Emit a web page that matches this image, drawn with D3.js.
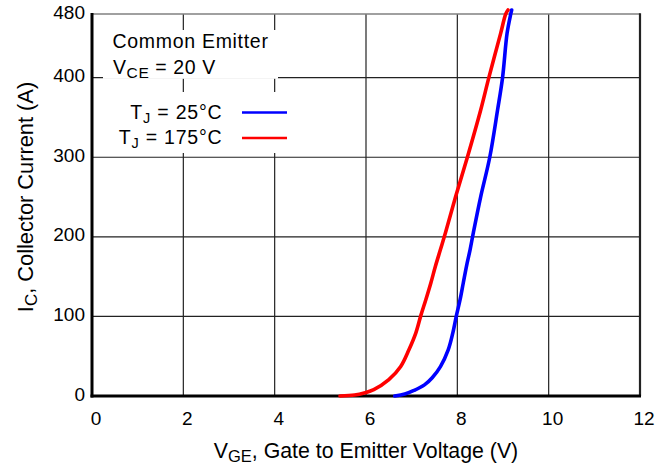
<!DOCTYPE html>
<html><head><meta charset="utf-8">
<script src="https://cdn.jsdelivr.net/npm/d3@7"></script>
<style>
html,body{margin:0;padding:0;background:#fff;}
text{font-family:"Liberation Sans",Arial,Helvetica,sans-serif;fill:#000;}
</style></head>
<body><svg id="c" width="668" height="466"></svg>
<script>
// ---- data ----
const xTicks = [0, 2, 4, 6, 8, 10, 12];
const yTicks = [0, 100, 200, 300, 400, 480];
const seriesNames = ["25°C", "175°C"];
const seriesColors = ["#0000ff", "#ff0000"];
const vge25 = [6.63, 6.85, 7.05, 7.28, 7.45, 7.63, 7.80, 7.90, 7.98, 8.06, 8.13, 8.20, 8.28, 8.35, 8.51, 8.71, 8.88, 8.99, 9.09, 9.17, 9.19];
const ic25  = [0,    2.5,  7,    14,   23,   37,   58,   79,   101,  121,  142,  163,  184,  205,  250,  300,  359,  400,  456,  480,  485];
const vge175 = [5.43, 5.75, 5.96, 6.17, 6.50, 6.76, 6.94, 7.09, 7.20, 7.31, 7.42, 7.52, 7.63, 7.74, 7.96, 8.22, 8.51, 8.69, 8.95, 9.06, 9.11];
const ic175  = [0,    1.2,  3.7,  8,    20.5, 37,   58,   79,   101,  121,  142,  163,  184,  205,  250,  300,  359,  400,  456,  480,  485];

const svg = d3.select("#c");
const m = {l: 92, t: 14, r: 640, b: 396};
const x = d3.scaleLinear().domain([0, 12]).range([m.l, m.r]);
const y = d3.scaleLinear().domain([0, 480]).range([m.b, m.t]);

// grid
const g = svg.append("g");
g.selectAll(".vg").data(xTicks.filter(d => d > 0 && d < 12)).join("line")
  .attr("x1", d => x(d)).attr("x2", d => x(d)).attr("y1", m.t).attr("y2", m.b)
  .attr("stroke", "#222").attr("stroke-width", 1.2);
g.selectAll(".hg").data(yTicks.filter(d => d > 0 && d < 480)).join("line")
  .attr("x1", m.l).attr("x2", m.r).attr("y1", d => y(d)).attr("y2", d => y(d))
  .attr("stroke", "#222").attr("stroke-width", 1.2);
// borders
svg.append("line").attr("x1", m.l).attr("x2", m.r).attr("y1", m.t).attr("y2", m.t)
  .attr("stroke", "#808080").attr("stroke-width", 1.6);
svg.append("line").attr("x1", m.r).attr("x2", m.r).attr("y1", m.t - 0.8).attr("y2", m.b)
  .attr("stroke", "#222").attr("stroke-width", 2.2);

// white boxes behind annotation
svg.append("rect").attr("x", 103).attr("y", 30).attr("width", 175).attr("height", 48.8).attr("fill", "#fff");
svg.append("rect").attr("x", 103).attr("y", 92).attr("width", 187).attr("height", 61).attr("fill", "#fff");

// axes lines (thick)
svg.append("line").attr("x1", m.l).attr("x2", m.l).attr("y1", m.t - 1).attr("y2", m.b + 1.5)
  .attr("stroke", "#000").attr("stroke-width", 3);
svg.append("line").attr("x1", m.l - 1.5).attr("x2", m.r + 1).attr("y1", m.b).attr("y2", m.b)
  .attr("stroke", "#000").attr("stroke-width", 3);

// tick labels
svg.selectAll(".xl").data(xTicks).join("text")
  .attr("x", d => x(d) + 4).attr("y", 424.5).attr("text-anchor", "middle")
  .attr("font-size", 19).text(d => d);
svg.selectAll(".yl").data(yTicks).join("text")
  .attr("x", 85).attr("y", d => y(d) + 4.5).attr("text-anchor", "end")
  .attr("font-size", 19).text(d => d);

// curves
const line = d3.line().x(d => x(d[0])).y(d => y(d[1])).curve(d3.curveCatmullRom.alpha(0.5));
const data = [d3.zip(vge25, ic25), d3.zip(vge175, ic175)];
svg.selectAll(".crv").data(data).join("path")
  .attr("d", line).attr("fill", "none")
  .attr("stroke", (d, i) => seriesColors[i]).attr("stroke-width", 3.6)
  .attr("stroke-linecap", "round").attr("stroke-linejoin", "round");

// annotation text
svg.append("text").attr("x", 112.5).attr("y", 47.5).attr("font-size", 19.5).attr("letter-spacing", 0.7).text("Common Emitter");
const vce = svg.append("text").attr("x", 113).attr("y", 73.5).attr("font-size", 19.5).attr("letter-spacing", 0.6);
vce.append("tspan").text("V");
vce.append("tspan").attr("font-size", 15.5).attr("dy", 4).text("CE");
vce.append("tspan").attr("dy", -4).text(" = 20 V");

// legend
const legY = [118.5, 144];
const legLineY = [112.5, 138];
seriesNames.forEach((nm, i) => {
  const t = svg.append("text").attr("x", 222.5).attr("y", legY[i]).attr("text-anchor", "end")
    .attr("font-size", 19.5).attr("letter-spacing", 0.8);
  t.append("tspan").text("T");
  t.append("tspan").attr("font-size", 14.5).attr("dy", 4).text("J");
  t.append("tspan").attr("dy", -4).text(" = " + nm);
  svg.append("line").attr("x1", 242).attr("x2", 287).attr("y1", legLineY[i]).attr("y2", legLineY[i])
    .attr("stroke", seriesColors[i]).attr("stroke-width", 2.6);
});

// axis titles
const xt = svg.append("text").attr("x", 366).attr("y", 458).attr("text-anchor", "middle").attr("font-size", 21.3);
xt.append("tspan").text("V");
xt.append("tspan").attr("font-size", 16.5).attr("dy", 4).text("GE");
xt.append("tspan").attr("dy", -4).text(", Gate to Emitter Voltage (V)");

const yt = svg.append("text").attr("transform", "translate(33,197) rotate(-90)").attr("text-anchor", "middle").attr("font-size", 21.8);
yt.append("tspan").text("I");
yt.append("tspan").attr("font-size", 17).attr("dy", 4).text("C");
yt.append("tspan").attr("dy", -4).text(", Collector Current (A)");
</script></body></html>
